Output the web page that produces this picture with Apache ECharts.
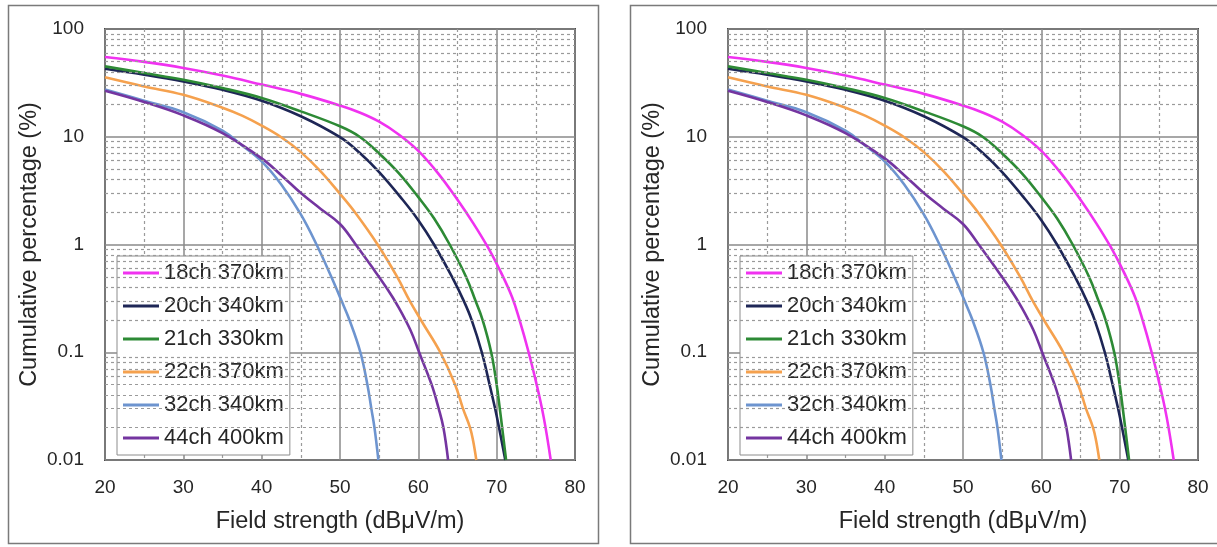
<!DOCTYPE html>
<html>
<head>
<meta charset="utf-8">
<title>Cumulative field strength distribution</title>
<script src="https://cdn.jsdelivr.net/npm/echarts@6/dist/echarts.min.js"></script>
<style>
  html, body { margin: 0; padding: 0; background: #ffffff; }
  #chart { width: 1217px; height: 547px; }
</style>
</head>
<body>
<div id="chart"></div>
<script>
// Field strength (dBuV/m) vs cumulative percentage (%) per channel / distance
const seriesNames = ['18ch 370km', '20ch 340km', '21ch 330km', '22ch 370km', '32ch 340km', '44ch 400km'];
const seriesColors = ['#f032f0', '#1e2656', '#2d8a35', '#f5a14e', '#6d94cf', '#7435a0'];

const ch18 = [[20,55],[25,49.5],[30,43.5],[35,37],[40,30.5],[45,25],[50,19.5],[52.5,16.8],[55,13.8],[57.5,10.5],[60,7.4],[62.5,4.6],[65,2.6],[67,1.58],[69,0.91],[70.5,0.56],[72,0.32],[73,0.19],[74,0.105],[75,0.054],[76,0.025],[76.9,0.01]];
const ch20 = [[20,42.8],[25,37.7],[30,32.6],[35,27.3],[40,21.6],[45,15.5],[50,9.9],[52.5,7.1],[55,4.7],[58,2.6],[60,1.68],[62,1.0],[64.3,0.5],[65.8,0.3],[66.8,0.2],[68.1,0.1],[69.1,0.05],[69.8,0.03],[70.3,0.02],[71.1,0.01]];
const ch21 = [[20,45],[25,39],[30,33.8],[35,28.3],[40,22.9],[45,17.2],[50,12.5],[52.5,10.0],[55,7.0],[57.5,4.6],[60,2.75],[62,1.75],[64,1.0],[66.1,0.5],[67.3,0.3],[68.2,0.2],[69.3,0.1],[70,0.05],[70.4,0.03],[70.7,0.02],[71.2,0.01]];
const ch22 = [[20,35.6],[25,29.3],[30,24.5],[35,18.6],[37.5,15.7],[40,12.7],[42.5,9.9],[45,7.2],[47.5,4.8],[50,2.95],[52,1.95],[54.8,1.0],[57.3,0.5],[58.9,0.3],[60.5,0.19],[62.8,0.1],[64.7,0.05],[65.7,0.03],[66.6,0.02],[67.0,0.015],[67.4,0.01]];
const ch32 = [[20,27.5],[25,21.6],[30,16.9],[35,11.4],[37.5,8.3],[40,5.9],[42.5,3.6],[45,1.9],[47,1.0],[48.9,0.5],[50.2,0.3],[51.2,0.2],[52.6,0.1],[53.5,0.05],[54,0.03],[54.4,0.02],[54.9,0.01]];
const ch44 = [[20,26.7],[25,21],[30,15.8],[35,10.8],[40,6.3],[42.5,4.4],[45,3.0],[47.5,2.15],[50,1.55],[52,1.0],[54,0.63],[56,0.39],[57.5,0.26],[59,0.16],[60.1,0.1],[61.7,0.05],[62.6,0.03],[63.2,0.02],[63.8,0.01]];
const seriesData = [ch18, ch20, ch21, ch22, ch32, ch44];

// axis ranges and the intermediate (2..9 x decade) gridline values of the log axis
const xMin = 20, xMax = 80, xStep = 10;
const yMin = 0.01, yMax = 100;
const decades = [0.01, 0.1, 1, 10];
const minorSteps = [2, 3, 4, 5, 6, 7, 8, 9];

const FONT = 'Arial, "Liberation Sans", sans-serif';
const TEXT_COLOR = '#262626';

// two identical panels side by side
const panels = [
  { gridLeft: 105, legendLeft: 117 },
  { gridLeft: 728, legendLeft: 740 }
];

const minorValues = [];
decades.forEach(d => minorSteps.forEach(m => minorValues.push(+(d * m).toPrecision(3))));

const option = {
  animation: false,
  backgroundColor: '#ffffff',
  textStyle: { fontFamily: FONT },
  graphic: [
    { type: 'rect', silent: true, z: -10, shape: { x: 8.5, y: 5.5, width: 590, height: 538 },
      style: { fill: '#ffffff', stroke: '#7a7a7a', lineWidth: 1.5 } },
    { type: 'rect', silent: true, z: -10, shape: { x: 630.5, y: 5.5, width: 620, height: 538 },
      style: { fill: '#ffffff', stroke: '#7a7a7a', lineWidth: 1.5 } }
  ],
  grid: [],
  xAxis: [],
  yAxis: [],
  legend: [],
  series: []
};

panels.forEach((p, i) => {
  option.grid.push({
    left: p.gridLeft, top: 29, width: 470, height: 431,
    show: true, backgroundColor: '#ffffff', borderColor: '#4a4a4a', borderWidth: 2, z: 0
  });
  option.xAxis.push({
    type: 'value', gridIndex: i, min: xMin, max: xMax, interval: xStep,
    name: 'Field strength (dB\u03bcV/m)', nameLocation: 'middle', nameGap: 50,
    nameTextStyle: { fontSize: 23.5, color: TEXT_COLOR, fontFamily: FONT },
    axisLine: { show: false }, axisTick: { show: false },
    axisLabel: { fontSize: 19, color: TEXT_COLOR, margin: 18, fontFamily: FONT },
    splitLine: { show: true, lineStyle: { color: '#8a8a8a', width: 1.5 } },
    minorTick: { show: false, splitNumber: 2 },
    minorSplitLine: { show: true, lineStyle: { color: '#9a9a9a', width: 1.2, type: [3, 3] } }
  });
  option.yAxis.push({
    type: 'log', logBase: 10, gridIndex: i, min: yMin, max: yMax,
    name: 'Cumulative percentage (%)', nameLocation: 'middle', nameGap: 63,
    nameTextStyle: { fontSize: 23.5, color: TEXT_COLOR, fontFamily: FONT },
    axisLine: { show: false }, axisTick: { show: false },
    axisLabel: { fontSize: 19, color: TEXT_COLOR, margin: 21, fontFamily: FONT,
      formatter: v => String(+v.toPrecision(3)) },
    splitLine: { show: true, lineStyle: { color: '#8a8a8a', width: 1.5 } }
  });
  // dashed gridlines at the 2..9 steps inside every decade
  option.series.push({
    type: 'line', xAxisIndex: i, yAxisIndex: i, data: [], z: 1, silent: true,
    markLine: {
      silent: true, symbol: 'none', animation: false,
      label: { show: false },
      lineStyle: { color: '#9a9a9a', width: 1.2, type: [3, 3] },
      data: minorValues.map(v => ({ yAxis: v }))
    }
  });
  seriesNames.forEach((name, k) => {
    option.series.push({
      type: 'line', name: name, xAxisIndex: i, yAxisIndex: i,
      data: seriesData[k], smooth: 0.4,
      showSymbol: false, symbol: 'none',
      lineStyle: { color: seriesColors[k], width: 2.6 },
      itemStyle: { color: seriesColors[k] }, z: 3
    });
  });
  option.legend.push({
    data: seriesNames, orient: 'vertical', left: p.legendLeft, top: 256,
    backgroundColor: '#ffffff', borderColor: '#8c8c8c', borderWidth: 1,
    padding: [6, 6, 6, 6], itemGap: 11, itemWidth: 36, itemHeight: 3,
    icon: 'rect', selectedMode: false,
    textStyle: { fontSize: 22, color: TEXT_COLOR, fontFamily: FONT, lineHeight: 22 }
  });
});

const chart = echarts.init(document.getElementById('chart'), null, { renderer: 'canvas' });
chart.setOption(option);
</script>
</body>
</html>
